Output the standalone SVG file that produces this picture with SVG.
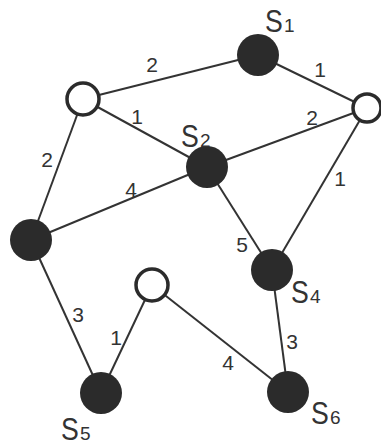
<svg xmlns="http://www.w3.org/2000/svg" width="381" height="446" viewBox="0 0 381 446">
<style>
.e{stroke:#333;stroke-width:2;fill:none}
.b{fill:#2b2b2b}
.o{fill:#fff;stroke:#2b2b2b;stroke-width:3.5}
.w{font-family:"Liberation Sans",Arial,sans-serif;font-size:21px;fill:#333;text-anchor:middle}
.s{font-family:"Liberation Sans",Arial,sans-serif;font-size:31px;fill:#333}
.d{font-family:"Liberation Sans",Arial,sans-serif;font-size:19px;fill:#333}
</style>
<rect width="381" height="446" fill="#fff"/>
<g id="connectors">
<line class="e" x1="83" y1="99" x2="258" y2="55"/>
<line class="e" x1="258" y1="55" x2="367" y2="108"/>
<line class="e" x1="83" y1="99" x2="207" y2="167"/>
<line class="e" x1="207" y1="167" x2="367" y2="108"/>
<line class="e" x1="83" y1="99" x2="31" y2="240"/>
<line class="e" x1="31" y1="240" x2="207" y2="167"/>
<line class="e" x1="367" y1="108" x2="272" y2="270"/>
<line class="e" x1="207" y1="167" x2="272" y2="270"/>
<line class="e" x1="31" y1="240" x2="101" y2="393"/>
<line class="e" x1="152" y1="285" x2="101" y2="393"/>
<line class="e" x1="152" y1="285" x2="288" y2="392"/>
<line class="e" x1="272" y1="270" x2="288" y2="392"/>
<text class="w" x="152" y="72">2</text>
<text class="w" x="320" y="77">1</text>
<text class="w" x="137" y="124">1</text>
<text class="w" x="312" y="125">2</text>
<text class="w" x="47" y="167">2</text>
<text class="w" x="131" y="197">4</text>
<text class="w" x="340" y="186">1</text>
<text class="w" x="242" y="252">5</text>
<text class="w" x="78" y="322">3</text>
<text class="w" x="116" y="345">1</text>
<text class="w" x="228" y="370">4</text>
<text class="w" x="292" y="349">3</text>
</g>
<g id="nA"><circle class="o" cx="83" cy="99" r="16"/></g>
<g id="nB"><circle class="o" cx="367" cy="108" r="14"/></g>
<g id="nC"><circle class="o" cx="152" cy="285" r="16"/></g>
<g id="nS1"><circle class="b" cx="258" cy="55" r="21"/><text class="s" transform="translate(265,32) scale(0.86,1)">S</text><text class="d" x="284" y="32">1</text></g>
<g id="nS2"><circle class="b" cx="207" cy="167" r="21"/><text class="s" transform="translate(181,147) scale(0.86,1)">S</text><text class="d" x="200" y="147">2</text></g>
<g id="nL"><circle class="b" cx="31" cy="240" r="21"/></g>
<g id="nS4"><circle class="b" cx="272" cy="270" r="21"/><text class="s" transform="translate(291,303) scale(0.86,1)">S</text><text class="d" x="310" y="303">4</text></g>
<g id="nS5"><circle class="b" cx="101" cy="393" r="21"/><text class="s" transform="translate(61,440) scale(0.86,1)">S</text><text class="d" x="80" y="440">5</text></g>
<g id="nS6"><circle class="b" cx="288" cy="392" r="21"/><text class="s" transform="translate(311,424) scale(0.86,1)">S</text><text class="d" x="330" y="424">6</text></g>
</svg>
